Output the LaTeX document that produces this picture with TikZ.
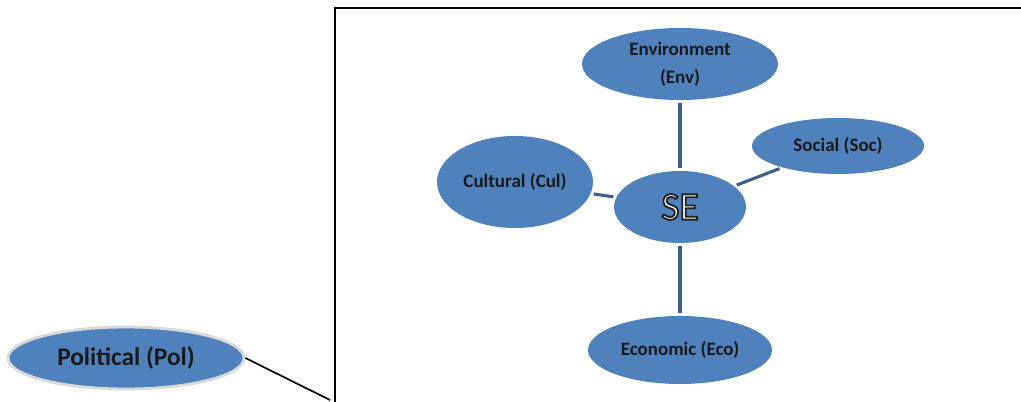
\documentclass[tikz,border=0pt]{standalone}
\usepackage{fontspec}
\setmainfont{Carlito}
\usetikzlibrary{shapes.geometric}

\definecolor{areablue}{HTML}{4F81BD}
\definecolor{linkblue}{HTML}{3E5F8A}

% white letters with a dark rim
\newcommand{\rimtext}[1]{\special{pdf:literal direct 2 Tr 1.3 w 0.12 0.12 0.12 RG}#1\special{pdf:literal direct 0 Tr}}

\tikzset{
  area/.style={ellipse, fill=areablue, inner sep=0pt, align=center,
    font=\bfseries\fontsize{13.5}{20}\selectfont, text=black!90},
  link/.style={draw=linkblue, line width=2.2pt, shorten <=2pt, shorten >=2pt}
}

\begin{document}
\begin{tikzpicture}
  \useasboundingbox (0,0) rectangle (25.525,10.05);

  % frame (left and top side)
  \draw[line width=1pt] (8.375,0) -- (8.375,9.85) -- (25.525,9.85);

  \node[area, minimum width=4.9cm, minimum height=1.8cm] (env) at (17.0,8.45) {Environment\\(Env)};
  \node[area, minimum width=4.3cm, minimum height=1.4cm] (soc) at (20.95,6.4) {Social (Soc)};
  \node[area, minimum width=3.9cm, minimum height=2.3cm] (cul) at (12.875,5.5) {Cultural (Cul)};
  \node[area, minimum width=3.3cm, minimum height=1.8cm, text=white,
    font=\fontsize{28}{30}\selectfont] (se) at (17.0,4.875) {\rimtext{SE}};
  \node[area, minimum width=4.6cm, minimum height=1.7cm] (eco) at (17.0,1.3) {Economic (Eco)};
  \node[area, draw=black!15, line width=2pt, minimum width=5.9cm, minimum height=1.55cm,
    font=\bfseries\fontsize{18}{20}\selectfont] (pol) at (3.15,1.1) {Political (Pol)};

  \draw[link] (se) -- (env);
  \draw[link] (se) -- (soc);
  \draw[link] (se) -- (cul);
  \draw[link] (se) -- (eco);

  \coordinate (polend) at (8.25,0.05);
  \draw[line width=1.2pt] (pol.east) -- (polend);
\end{tikzpicture}
\end{document}
